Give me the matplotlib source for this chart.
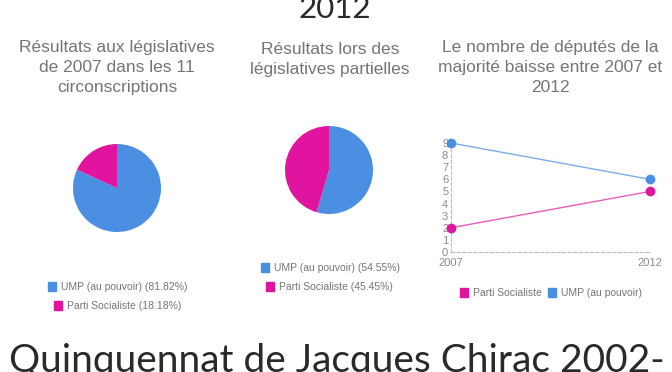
import matplotlib
matplotlib.use('Agg')
import matplotlib.pyplot as plt
from matplotlib.patches import Rectangle

# DATA
pie1_labels = ["UMP (au pouvoir) (81.82%)", "Parti Socialiste (18.18%)"]
pie1_values = [81.82, 18.18]
pie2_labels = ["UMP (au pouvoir) (54.55%)", "Parti Socialiste (45.45%)"]
pie2_values = [54.55, 45.45]
years = ["2007", "2012"]
ump_seats = [9, 6]
ps_seats = [2, 5]
y_ticks = list(range(0, 10))

title_top = "2012"
title_bottom = "Quinquennat de Jacques Chirac 2002-"
sub1 = "Résultats aux législatives\nde 2007 dans les 11\ncirconscriptions"
sub2 = "Résultats lors des\nlégislatives partielles"
sub3 = "Le nombre de députés de la\nmajorité baisse entre 2007 et\n2012"

BLUE = "#4a8fe2"
PINK = "#e0149e"
GREY = "#757575"
W, H = 672, 372

plt.rcParams['font.family'] = ['Liberation Sans', 'DejaVu Sans']

fig = plt.figure(figsize=(W / 100, H / 100), dpi=100)
fig.patch.set_facecolor("white")


def box(x, y, w, h):
    # pixel box (top-left origin) -> figure fraction
    return [x / W, (H - y - h) / H, w / W, h / H]


def fx(x):
    return x / W


def fy(y):
    return (H - y) / H


# big titles
fig.text(fx(335), fy(18), title_top, ha="center", va="baseline", fontsize=22.5,
         family=["Lato", "DejaVu Sans"], fontweight="normal", color="#2a2a2a")
fig.text(fx(9), fy(372), title_bottom, ha="left", va="baseline", fontsize=28,
         family=["Lato", "DejaVu Sans"], fontweight="normal", color="#2a2a2a")

# subtitles
for x, y, s in [(117, 40, sub1), (330, 42, sub2), (550, 40, sub3)]:
    fig.text(fx(x), fy(y), s, ha="center", va="top", fontsize=12.5,
             color=GREY, linespacing=1.4)

# pies
for (cx, cy, r), vals in [((117, 188, 44), pie1_values), ((329, 170, 44), pie2_values)]:
    ax = fig.add_axes(box(cx - r, cy - r, 2 * r, 2 * r))
    ax.pie(vals, colors=[BLUE, PINK], startangle=90, counterclock=False,
           wedgeprops=dict(linewidth=0))
    ax.set_xlim(-1, 1)
    ax.set_ylim(-1, 1)
    ax.axis("off")


def legend_item(x, y, color, label):
    fig.patches.append(Rectangle((fx(x), fy(y + 4)), 8 / W, 9 / H,
                                 transform=fig.transFigure, color=color))
    fig.text(fx(x + 13), fy(y), label, ha="left", va="center",
             fontsize=7.5, color=GREY)


legend_item(48, 287, BLUE, pie1_labels[0])
legend_item(54, 306, PINK, pie1_labels[1])
legend_item(261, 268, BLUE, pie2_labels[0])
legend_item(266, 287, PINK, pie2_labels[1])

# line chart
ax = fig.add_axes(box(451, 143, 199, 109))
xs = list(range(len(years)))
ax.plot(xs, ump_seats, color="#7aaeea", lw=1, marker="o", ms=6,
        mfc=BLUE, mec=BLUE, clip_on=False, zorder=3)
ax.plot(xs, ps_seats, color="#ea5cbc", lw=1, marker="o", ms=6,
        mfc=PINK, mec=PINK, clip_on=False, zorder=3)
ax.set_xlim(0, 1)
ax.set_ylim(0, 9)
ax.set_yticks(y_ticks)
ax.set_xticks(xs)
ax.set_xticklabels(years)
ax.tick_params(length=0, labelsize=8, labelcolor="#8a8a8a")
ax.tick_params(axis="x", pad=4)
ax.tick_params(axis="y", pad=2)
for side in ["top", "right"]:
    ax.spines[side].set_visible(False)
for side in ["left", "bottom"]:
    ax.spines[side].set_color("#bdbdbd")
    ax.spines[side].set_linestyle((0, (3, 2)))
    ax.spines[side].set_linewidth(0.8)
ax.patch.set_alpha(0)

legend_item(460, 293, PINK, "Parti Socialiste")
legend_item(548, 293, BLUE, "UMP (au pouvoir)")

fig.savefig("out.png", dpi=100)
